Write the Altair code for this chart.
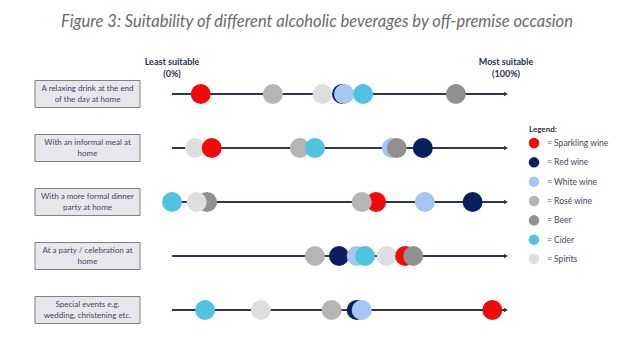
import altair as alt
import pandas as pd

# ---------------- data ----------------
occasion_keys = ["relax", "informal", "formal", "party", "special"]
occasion_labels = [
    "A relaxing drink at the end\nof the day at home",
    "With an informal meal at\nhome",
    "With a more formal dinner\nparty at home",
    "At a party / celebration at\nhome",
    "Special events e.g.\nwedding, christening etc.",
]

beverages = ["Sparkling wine", "Red wine", "White wine", "Rosé wine", "Beer", "Cider", "Spirits"]
bev_colors = ["#f00a0a", "#0b1f5e", "#a3c6f2", "#b5b5b5", "#909090", "#4fc3e1", "#dedede"]

# suitability (% of the way from least to most suitable), per occasion
sparkling_wine = [8.6, 11.9, 61.1, 69.8, 95.9]
red_wine = [50.9, 75.1, 90.0, 50.0, 55.3]
white_wine = [51.5, 65.8, 75.7, 55.3, 56.8]
rose_wine = [30.2, 38.3, 56.8, 42.8, 47.8]
beer = [85.0, 67.3, 10.5, 72.2, None]
cider = [57.2, 42.8, 0.0, 57.8, 9.9]
spirits = [45.1, 6.9, 7.4, 64.3, 26.6]

# drawing order (bottom to top) of the overlapping circles in each row
draw_order = [
    ["Spirits", "Red wine", "White wine", "Cider", "Sparkling wine", "Rosé wine", "Beer"],
    ["Spirits", "Sparkling wine", "Rosé wine", "Cider", "White wine", "Beer", "Red wine"],
    ["Beer", "Spirits", "Cider", "Sparkling wine", "Rosé wine", "White wine", "Red wine"],
    ["Rosé wine", "Red wine", "White wine", "Cider", "Spirits", "Sparkling wine", "Beer"],
    ["Cider", "Spirits", "Rosé wine", "Red wine", "White wine", "Sparkling wine", "Beer"],
]

title_text = "Figure 3: Suitability of different alcoholic beverages by off-premise occasion"

# ---------------- tables ----------------
series = dict(zip(beverages, [sparkling_wine, red_wine, white_wine, rose_wine, beer, cider, spirits]))
rows = []
for i, key in enumerate(occasion_keys):
    for z, bev in enumerate(draw_order[i]):
        v = series[bev][i]
        if v is not None:
            rows.append({"key": key, "beverage": bev, "value": v, "z": z})
df_pts = pd.DataFrame(rows)
df_occ = pd.DataFrame({"key": occasion_keys, "label": occasion_labels,
                       "start": [0] * 5, "end": [100] * 5})
df_leg = pd.DataFrame({"beverage": beverages, "label": ["= " + b for b in beverages]})
df_ends = pd.DataFrame({"value": [0, 100], "line1": ["Least suitable", "Most suitable"],
                        "line2": ["(0%)", "(100%)"]})
df_title = pd.DataFrame({"t": [title_text]})
df_legtitle = pd.DataFrame({"t": ["Legend:"]})

# ---------------- scales ----------------
xs = alt.Scale(domain=[0, 100], range=[172, 506])
ys = alt.Scale(type="point", domain=occasion_keys, range=[94, 310], padding=0)
cs = alt.Scale(domain=beverages, range=bev_colors)
NAVY = "#2e3552"
TXT = "#3b4565"

X = alt.X("value:Q", scale=xs, axis=None)
Y = alt.Y("key:N", scale=ys, axis=None)

lines = alt.Chart(df_occ).mark_rule(strokeWidth=2, color=NAVY).encode(
    x=alt.X("start:Q", scale=xs, axis=None), x2="end:Q", y=Y)
arrows = alt.Chart(df_occ).mark_point(shape="triangle-right", filled=True, size=22,
                                      color=NAVY, opacity=1).encode(
    x=alt.X("end:Q", scale=xs, axis=None), y=Y)

circles = alt.Chart(df_pts).mark_circle(size=400, opacity=1).encode(
    x=X, y=Y,
    color=alt.Color("beverage:N", scale=cs, legend=None),
    order=alt.Order("z:Q"))

boxes = alt.Chart(df_occ).mark_rect(fill="#e8e8ec", stroke="#808080", strokeWidth=1,
                                    yOffset=-13.5, y2Offset=13.5).encode(
    x=alt.value(35), x2=alt.value(140), y=Y, y2=alt.Y2("key:N"))
box_text = alt.Chart(df_occ).mark_text(lineBreak="\n", font="Lato", fontSize=8,
                                       color=TXT, align="center", baseline="middle",
                                       lineHeight=11, dy=-5.5).encode(
    x=alt.value(87.5), y=Y, text="label:N")

end1 = alt.Chart(df_ends).mark_text(font="Lato", fontWeight="bold", fontSize=9,
                                    color="#28314d", align="center").encode(
    x=X, y=alt.value(62), text="line1:N")
end2 = alt.Chart(df_ends).mark_text(font="Lato", fontWeight="bold", fontSize=9,
                                    color="#28314d", align="center").encode(
    x=X, y=alt.value(74), text="line2:N")

title = alt.Chart(df_title).mark_text(font="Lato", fontStyle="italic", fontSize=16.5,
                                      color="#6a6a6a", align="center").encode(
    x=alt.value(317), y=alt.value(22), text="t:N")

legtitle = alt.Chart(df_legtitle).mark_text(font="Lato", fontWeight="bold", fontSize=8,
                                            color="#28314d", align="left").encode(
    x=alt.value(529), y=alt.value(130), text="t:N")

LY = alt.Y("beverage:N",
           scale=alt.Scale(type="point", domain=beverages, range=[143, 259], padding=0),
           axis=None)
leg_dots = alt.Chart(df_leg).mark_circle(size=110, opacity=1).encode(
    x=alt.value(534), y=LY,
    color=alt.Color("beverage:N", scale=cs, legend=None))
leg_text = alt.Chart(df_leg).mark_text(font="Lato", fontSize=8.5, color=TXT, align="left",
                                       baseline="middle").encode(
    x=alt.value(547), y=LY, text="label:N")

chart = alt.layer(lines, arrows, circles, boxes, box_text, end1, end2, title,
                  legtitle, leg_dots, leg_text).resolve_scale(y="independent").properties(
    width=640, height=346, padding=0,
    autosize=alt.AutoSizeParams(type="none"),
    background="white",
).configure_view(stroke=None)

chart.save("out.html", embed_options={"renderer": "svg", "actions": False})
